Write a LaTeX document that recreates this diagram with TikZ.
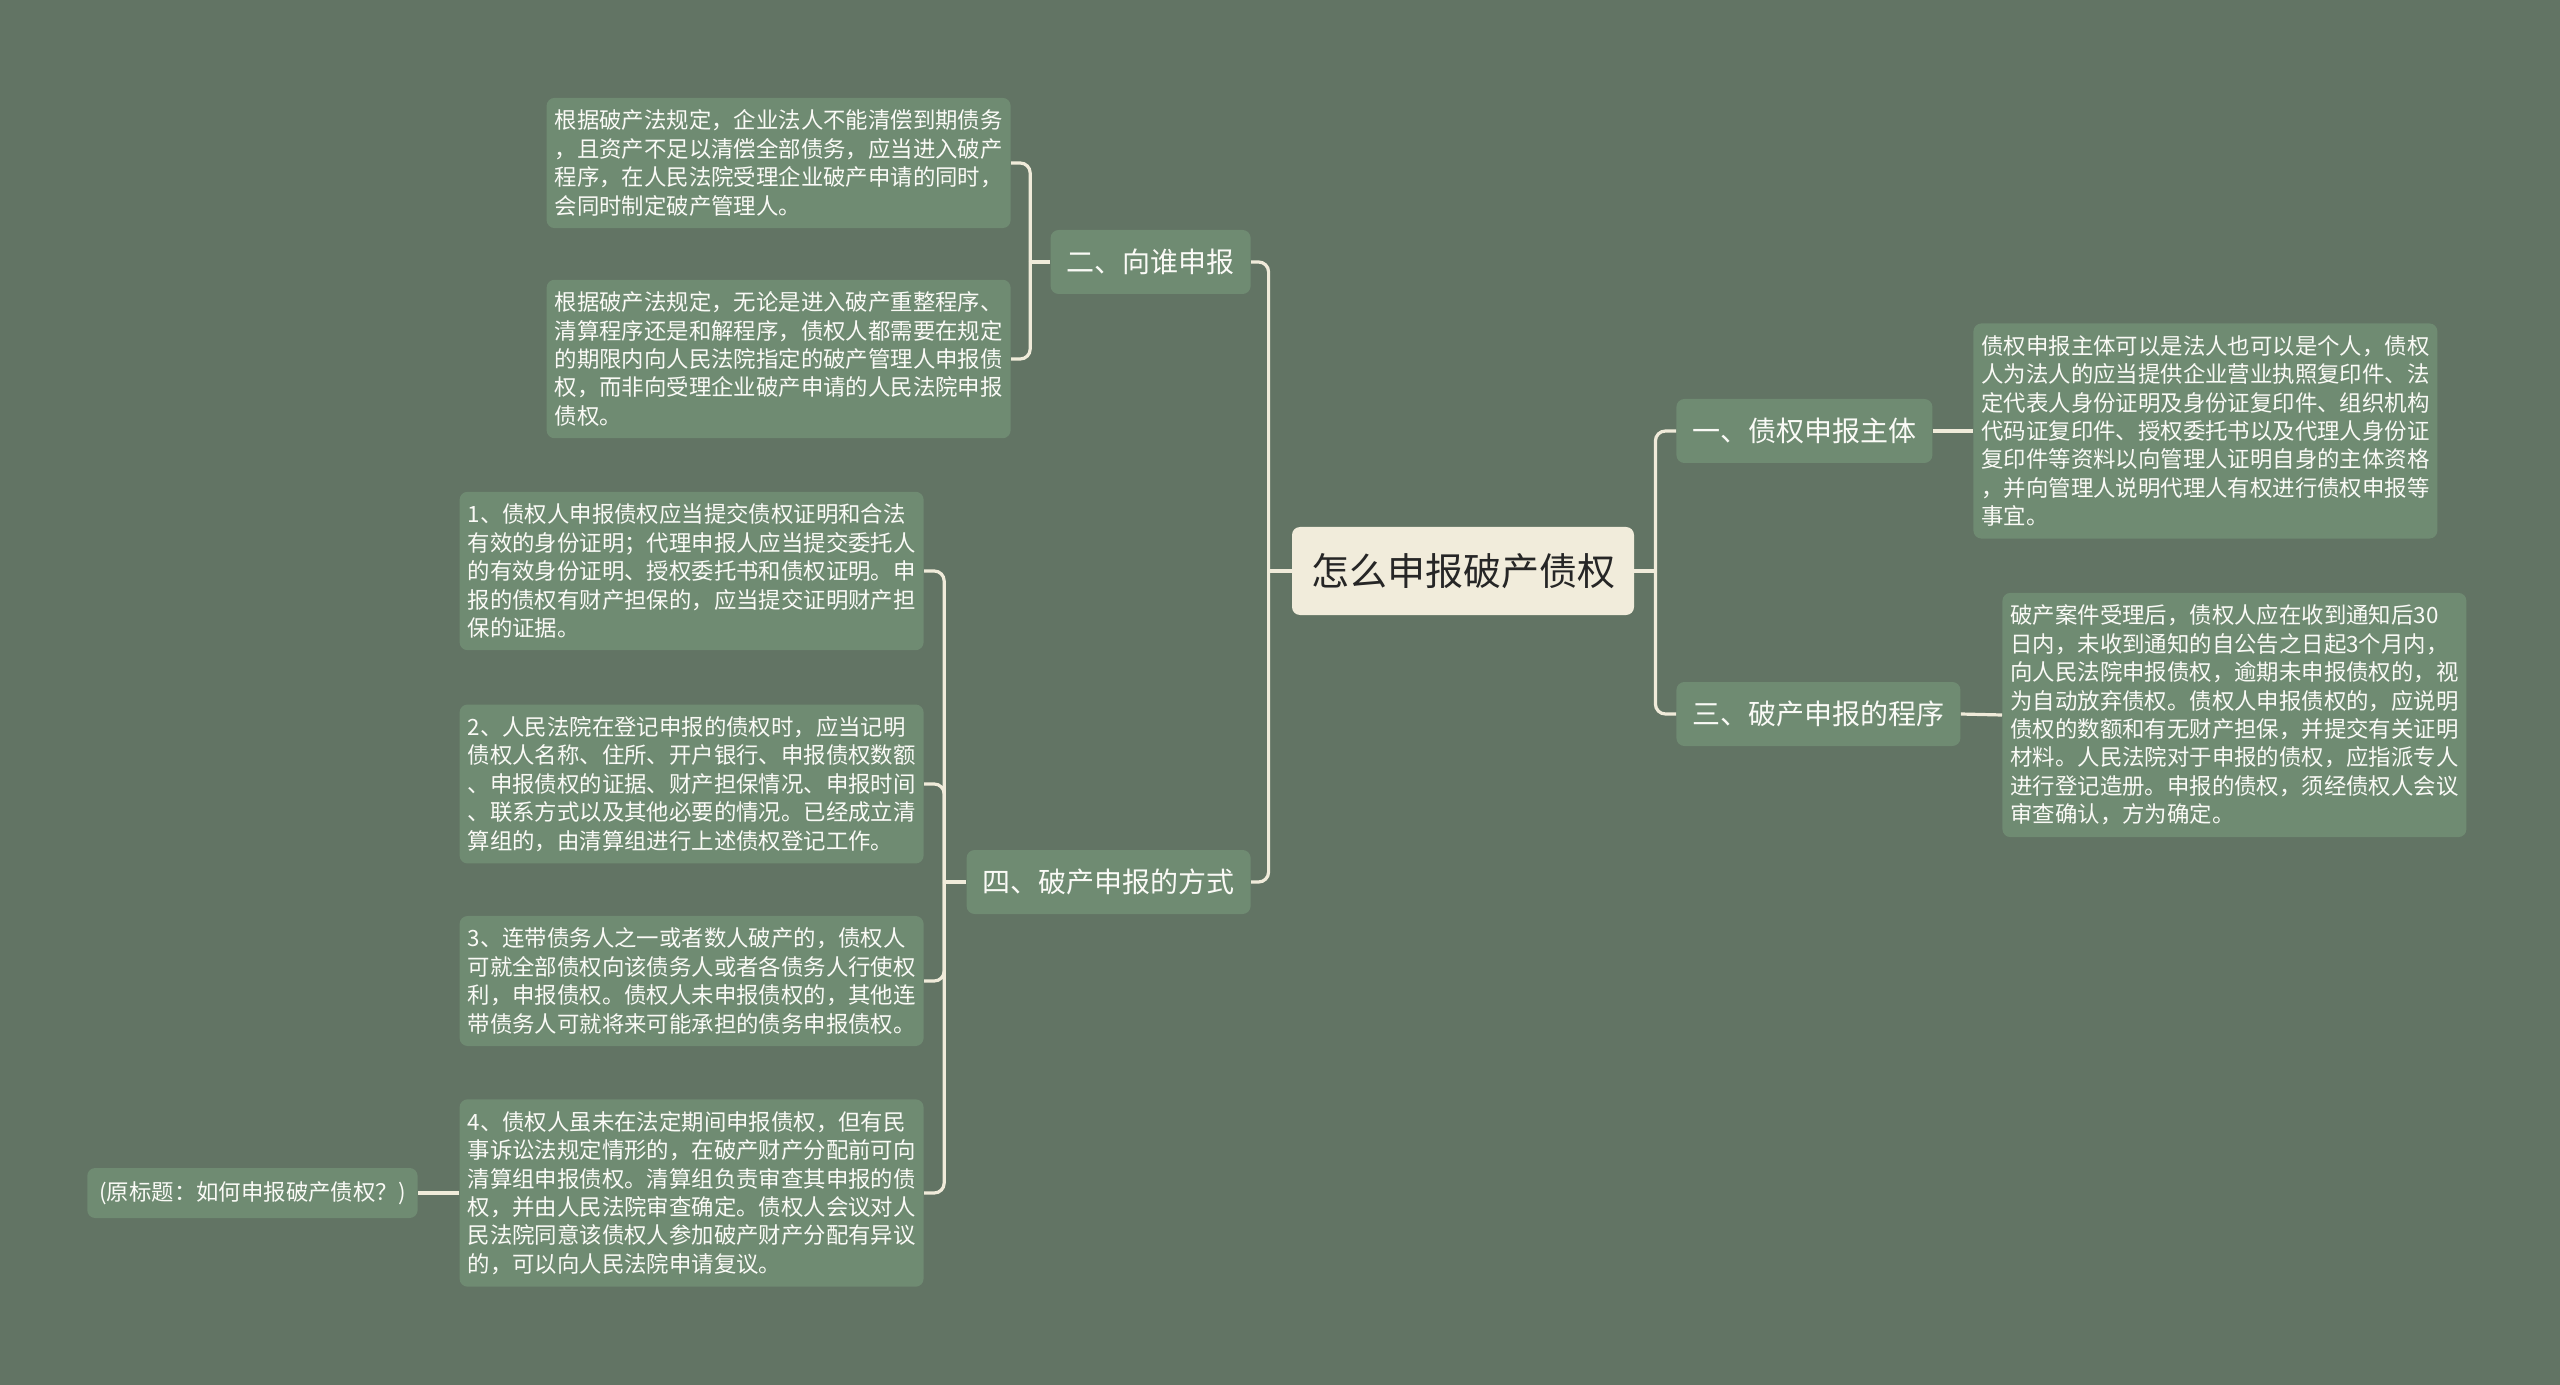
\documentclass[tikz,border=0pt]{standalone}
\usepackage{fontspec}
\setmainfont{Noto Sans CJK SC}
\usepackage{tikz}
\definecolor{bgcol}{RGB}{98,116,100}
\definecolor{boxcol}{RGB}{111,139,114}
\definecolor{rootcol}{RGB}{241,236,219}
\definecolor{linecol}{RGB}{240,235,218}
\definecolor{leaftext}{RGB}{250,250,246}
\definecolor{roottext}{RGB}{38,38,38}

\begin{document}
\begin{tikzpicture}[x=0.5pt, y=-0.5pt,
    root/.style = {fill=rootcol, rounded corners=4pt, text=roottext, font=\fontsize{19}{23}\selectfont, inner xsep=9.5pt, minimum height=44pt},
    branch/.style = {fill=boxcol, rounded corners=4pt, text=leaftext, font=\fontsize{14}{17}\selectfont, inner xsep=8pt, minimum height=32pt},
    leaf/.style = {fill=boxcol, rounded corners=4pt, text=leaftext, font=\fontsize{11.2}{14.2}\selectfont, text width=224pt, align=left, inner xsep=4pt, inner ysep=6pt},
    note/.style = {fill=boxcol, rounded corners=4pt, text=leaftext, font=\fontsize{11.2}{14.2}\selectfont, inner xsep=6pt, minimum height=25pt},
    link/.style = {draw=linecol, line width=1.6pt, rounded corners=5pt}]
    \fill[bgcol] (0,0) rectangle (2560,1385);
    \useasboundingbox (0,0) rectangle (2560,1385);

    \node[root] (R) at (1463,571) {怎么申报破产债权};

    \node[branch, anchor=east] (B2) at (1251,262) {二、向谁申报};
    \node[branch, anchor=east] (B4) at (1251,882) {四、破产申报的方式};
    \node[branch, anchor=west] (B1) at (1676,431) {一、债权申报主体};
    \node[branch, anchor=west] (B3) at (1676,714) {三、破产申报的程序};

    \node[leaf, anchor=east] (L21) at (1011,163) {根据破产法规定，企业法人不能清偿到期债务\\，且资产不足以清偿全部债务，应当进入破产\\程序，在人民法院受理企业破产申请的同时，\\会同时制定破产管理人。};
    \node[leaf, anchor=east] (L22) at (1011,359) {根据破产法规定，无论是进入破产重整程序、\\清算程序还是和解程序，债权人都需要在规定\\的期限内向人民法院指定的破产管理人申报债\\权，而非向受理企业破产申请的人民法院申报\\债权。};

    \node[leaf, anchor=east] (L41) at (924,571) {1、债权人申报债权应当提交债权证明和合法\\有效的身份证明；代理申报人应当提交委托人\\的有效身份证明、授权委托书和债权证明。申\\报的债权有财产担保的，应当提交证明财产担\\保的证据。};
    \node[leaf, anchor=east] (L42) at (924,784) {2、人民法院在登记申报的债权时，应当记明\\债权人名称、住所、开户银行、申报债权数额\\、申报债权的证据、财产担保情况、申报时间\\、联系方式以及其他必要的情况。已经成立清\\算组的，由清算组进行上述债权登记工作。};
    \node[leaf, anchor=east] (L43) at (924,981) {3、连带债务人之一或者数人破产的，债权人\\可就全部债权向该债务人或者各债务人行使权\\利，申报债权。债权人未申报债权的，其他连\\带债务人可就将来可能承担的债务申报债权。};
    \node[leaf, anchor=east] (L44) at (924,1193) {4、债权人虽未在法定期间申报债权，但有民\\事诉讼法规定情形的，在破产财产分配前可向\\清算组申报债权。清算组负责审查其申报的债\\权，并由人民法院审查确定。债权人会议对人\\民法院同意该债权人参加破产财产分配有异议\\的，可以向人民法院申请复议。};
    \node[note, anchor=east] (N) at (418,1193) {(原标题：如何申报破产债权？)};

    \node[leaf, anchor=west] (L11) at (1973,431) {债权申报主体可以是法人也可以是个人，债权\\人为法人的应当提供企业营业执照复印件、法\\定代表人身份证明及身份证复印件、组织机构\\代码证复印件、授权委托书以及代理人身份证\\复印件等资料以向管理人证明自身的主体资格\\，并向管理人说明代理人有权进行债权申报等\\事宜。};
    \node[leaf, anchor=west] (L31) at (2002,715) {破产案件受理后，债权人应在收到通知后30\\日内，未收到通知的自公告之日起3个月内，\\向人民法院申报债权，逾期未申报债权的，视\\为自动放弃债权。债权人申报债权的，应说明\\债权的数额和有无财产担保，并提交有关证明\\材料。人民法院对于申报的债权，应指派专人\\进行登记造册。申报的债权，须经债权人会议\\审查确认，方为确定。};

    \draw[link] (R.west) -- ++(-23,0) coordinate (RL);
    \draw[link] (RL) |- (B2.east);
    \draw[link] (RL) |- (B4.east);
    \draw[link] (R.east) -- ++(21,0) coordinate (RR);
    \draw[link] (RR) |- (B1.west);
    \draw[link] (RR) |- (B3.west);

    \draw[link] (B2.west) -- ++(-20,0) coordinate (T2);
    \draw[link] (T2) |- (L21.east);
    \draw[link] (T2) |- (L22.east);

    \draw[link] (B4.west) -- ++(-22,0) coordinate (T4);
    \foreach \n in {L41,L42,L43,L44}
        \draw[link] (T4) |- (\n.east);

    \draw[link] (B1.east) -- (L11.west);
    \draw[link] (B3.east) -- (L31.west);
    \draw[link] (L44.west) -- (N.east);
\end{tikzpicture}
\end{document}
